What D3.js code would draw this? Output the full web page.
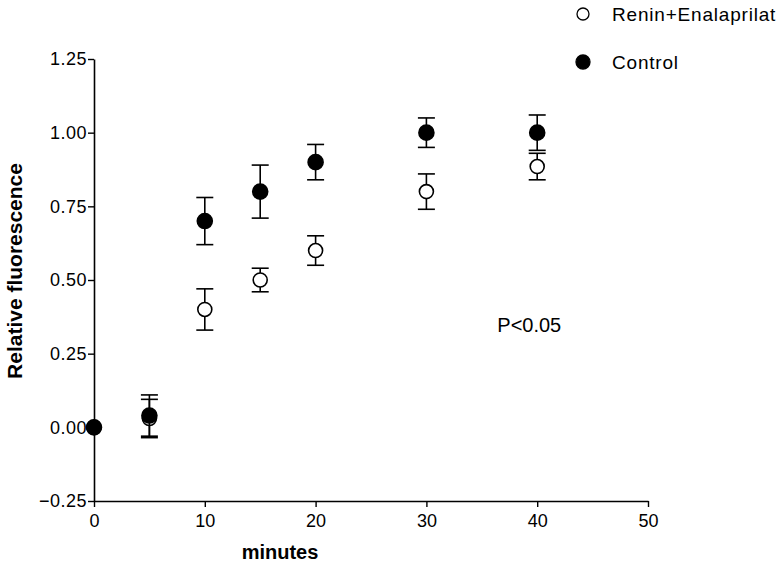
<!DOCTYPE html>
<html>
<head>
<meta charset="utf-8">
<script src="https://cdn.jsdelivr.net/npm/d3@7"></script>
<style>
  html, body { margin: 0; padding: 0; background: #fff; }
  svg { display: block; }
  text { font-family: "Liberation Sans", Arial, Helvetica, sans-serif; fill: #000; }
</style>
</head>
<body>
<svg id="chart" width="784" height="568"></svg>
<script>
// ---- data ----
const minutes = [0, 5, 10, 15, 20, 30, 40];
const controlMean = [0.00, 0.04, 0.70, 0.80, 0.90, 1.00, 1.00];
const controlErr  = [0.00, 0.07, 0.08, 0.09, 0.06, 0.05, 0.06];
const reninMean   = [0.00, 0.03, 0.40, 0.50, 0.60, 0.80, 0.885];
const reninErr    = [0.00, 0.065, 0.07, 0.04, 0.05, 0.06, 0.045];
const xTicks = [0, 10, 20, 30, 40, 50];
const yTicks = [-0.25, 0.00, 0.25, 0.50, 0.75, 1.00, 1.25];
const seriesNames = ["Renin+Enalaprilat", "Control"];
const annotation = "P<0.05";
const xTitle = "minutes";
const yTitle = "Relative fluorescence";

// ---- layout ----
const svg = d3.select("#chart");
const margin = { left: 94, top: 59, right: 136, bottom: 67 };
const W = 784, H = 568;
const x = d3.scaleLinear().domain([0, 50]).range([margin.left, W - margin.right]);
const y = d3.scaleLinear().domain([-0.25, 1.25]).range([H - margin.bottom, margin.top]);

// axes
const xAxis = svg.append("g")
  .attr("transform", `translate(0,${y(-0.25)})`)
  .call(d3.axisBottom(x).tickValues(xTicks).tickFormat(d3.format("d")).tickSize(6).tickSizeOuter(0).tickPadding(7));
const yAxis = svg.append("g")
  .attr("transform", `translate(${x(0)},0)`)
  .call(d3.axisLeft(y).tickValues(yTicks).tickFormat(d3.format(".2f")).tickSize(6).tickSizeOuter(0).tickPadding(1));
[xAxis, yAxis].forEach(g => {
  g.select(".domain").attr("stroke", "#000").attr("stroke-width", 1.6);
  g.selectAll(".tick line").attr("stroke", "#000").attr("stroke-width", 1.4);
  g.selectAll(".tick text")
    .style("font-family", '"Liberation Sans", Arial, sans-serif')
    .style("font-size", "18px").attr("fill", "#000");
});
yAxis.selectAll(".tick text").style("letter-spacing", "0.5px");

// axis titles
svg.append("text")
  .attr("x", x(25) - 91).attr("y", 559)
  .attr("text-anchor", "middle")
  .style("font-size", "20px").style("font-weight", "bold")
  .text(xTitle);
svg.append("text")
  .attr("transform", `translate(22,${271}) rotate(-90)`)
  .attr("text-anchor", "middle")
  .style("font-size", "21px").style("font-weight", "bold")
  .text(yTitle);

// annotation
svg.append("text")
  .attr("x", x(36.4)).attr("y", y(0.325))
  .style("font-size", "20px")
  .text(annotation);

// ---- series ----
function drawSeries(means, errs, filled) {
  const data = minutes.map((m, i) => ({ m, v: means[i], e: errs[i] }));
  const g = svg.append("g");
  const eb = g.selectAll("g.eb").data(data.filter(d => d.e > 0)).join("g")
    .attr("stroke", "#000").attr("stroke-width", 1.6);
  eb.append("line")
    .attr("x1", d => x(d.m)).attr("x2", d => x(d.m))
    .attr("y1", d => y(d.v - d.e)).attr("y2", d => y(d.v + d.e));
  eb.append("line")
    .attr("x1", d => x(d.m) - 8.5).attr("x2", d => x(d.m) + 8.5)
    .attr("y1", d => y(d.v + d.e)).attr("y2", d => y(d.v + d.e));
  eb.append("line")
    .attr("x1", d => x(d.m) - 8.5).attr("x2", d => x(d.m) + 8.5)
    .attr("y1", d => y(d.v - d.e)).attr("y2", d => y(d.v - d.e));
  g.selectAll("circle").data(data).join("circle")
    .attr("cx", d => x(d.m)).attr("cy", d => y(d.v))
    .attr("r", filled ? 7.5 : 7)
    .attr("fill", filled ? "#000" : "#fff")
    .attr("stroke", "#000").attr("stroke-width", 1.6);
}
drawSeries(reninMean, reninErr, false);
drawSeries(controlMean, controlErr, true);

// ---- legend ----
const legend = svg.append("g");
const legItems = [
  { name: seriesNames[0], filled: false, cy: 14 },
  { name: seriesNames[1], filled: true, cy: 62 }
];
legItems.forEach(it => {
  legend.append("circle")
    .attr("cx", 583).attr("cy", it.cy)
    .attr("r", it.filled ? 7 : 6)
    .attr("fill", it.filled ? "#000" : "#fff")
    .attr("stroke", "#000").attr("stroke-width", 1.3);
  legend.append("text")
    .attr("x", 612).attr("y", it.cy + 7)
    .style("font-size", "19px").style("letter-spacing", "0.8px")
    .text(it.name);
});
</script>
</body>
</html>
